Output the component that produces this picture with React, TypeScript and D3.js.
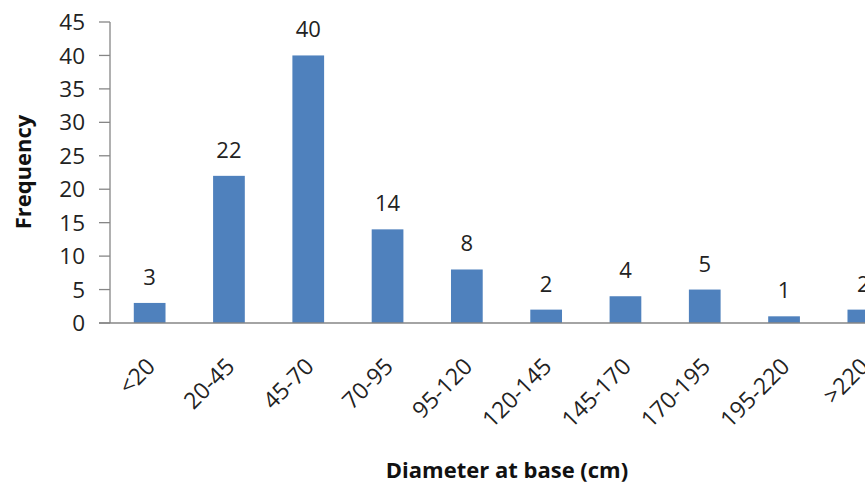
import React from "react";
import * as d3 from "d3";

// Tree counts per basal-diameter class
const categories = ["<20", "20-45", "45-70", "70-95", "95-120", "120-145", "145-170", "170-195", "195-220", ">220"];
const frequencies = [3, 22, 40, 14, 8, 2, 4, 5, 1, 2];
const yTicks = [0, 5, 10, 15, 20, 25, 30, 35, 40, 45];

const W = 865;
const H = 485;
const left = 110;
const top = 22;
const bottom = 323;
const step = 79.3;

const FONT = "'Open Sans', 'Noto Sans', sans-serif";
const AXIS = "#868686";
const BAR = "#4F81BD";

export default function App() {
  const x = d3
    .scaleBand<string>()
    .domain(categories)
    .range([left, left + step * categories.length])
    .paddingInner(0.6)
    .paddingOuter(0.3);
  const y = d3.scaleLinear().domain([0, 45]).range([bottom, top]);

  return (
    <svg
      width={W}
      height={H}
      style={{ position: "absolute", left: 0, top: 0, background: "#fff" }}
      fontFamily={FONT}
    >
      {/* bars */}
      {categories.map((c, i) => (
        <rect
          key={c}
          x={x(c)!}
          y={y(frequencies[i])}
          width={x.bandwidth()}
          height={bottom - y(frequencies[i])}
          fill={BAR}
        />
      ))}

      {/* value labels */}
      {categories.map((c, i) => (
        <text
          key={"v" + c}
          x={x(c)! + x.bandwidth() / 2}
          y={y(frequencies[i]) - 18}
          textAnchor="middle"
          fontSize={22}
          fill="#222"
        >
          {frequencies[i]}
        </text>
      ))}

      {/* y axis */}
      <line x1={left} x2={left} y1={top} y2={bottom} stroke={AXIS} strokeWidth={1.3} />
      {yTicks.map((t) => (
        <g key={t}>
          <line x1={left - 11} x2={left} y1={y(t)} y2={y(t)} stroke={AXIS} strokeWidth={1.3} />
          <text x={85} y={y(t)} dy="0.36em" textAnchor="end" fontSize={22.5} fill="#222">
            {t}
          </text>
        </g>
      ))}

      {/* x axis */}
      <line x1={left - 11} x2={W} y1={bottom} y2={bottom} stroke={AXIS} strokeWidth={1.3} />
      {categories.map((c) => {
        const cx = x(c)! + x.bandwidth() / 2 + 7;
        const cy = bottom + 45;
        return (
          <text
            key={"c" + c}
            transform={`translate(${cx},${cy}) rotate(-45)`}
            textAnchor="end"
            fontSize={23}
            fill="#222"
          >
            {c}
          </text>
        );
      })}

      {/* axis titles */}
      <text
        transform={`translate(31,172) rotate(-90)`}
        textAnchor="middle"
        fontSize={22}
        fontWeight="bold"
        fill="#111"
      >
        Frequency
      </text>
      <text x={507} y={478} textAnchor="middle" fontSize={22} fontWeight="bold" fill="#111">
        Diameter at base (cm)
      </text>
    </svg>
  );
}
